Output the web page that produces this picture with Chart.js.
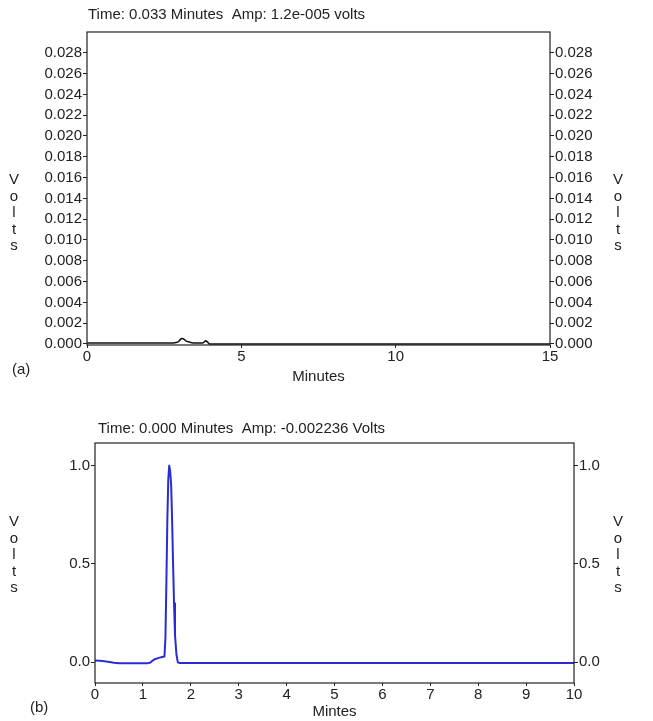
<!DOCTYPE html>
<html lang="en">
<head>
  <meta charset="UTF-8">
  <title>Chromatograms</title>
  <script src="https://cdn.jsdelivr.net/npm/chart.js"></script>
  <style>
    body { margin: 0; background: #fff; width: 653px; height: 721px; overflow: hidden; }
    .panel { position: absolute; left: 0; width: 653px; }
    #boxA { top: 0; height: 395px; }
    #boxB { top: 395px; height: 326px; }
  </style>
</head>
<body>
  <div class="panel" id="boxA"><canvas id="chartA" width="653" height="395"></canvas></div>
  <div class="panel" id="boxB"><canvas id="chartB" width="653" height="326"></canvas></div>

  <script>
    // (a) detector trace, minutes / volts
    const timesA = [0, 0.5, 1, 1.5, 2, 2.5, 2.8, 2.95, 3.05, 3.12, 3.2, 3.3, 3.45, 3.6, 3.75, 3.85, 3.9, 3.97, 4.1, 4.5, 5, 6, 7, 8, 9, 10, 11, 12, 13, 14, 15];
    const voltsA = [0.0001, 0.0001, 0.0001, 0.0001, 0.0001, 0.0001, 0.0001, 0.0002, 0.0005, 0.0005, 0.0003, 0.0002, 0.0001, 0.0001, 0.0001, 0.0003, 0.0002, 0.0, 0.0, 0.0, 0.0, 0.0, 0.0, 0.0, 0.0, 0.0, 0.0, 0.0, 0.0, 0.0, 0.0];
    const ticksA = [0, 0.002, 0.004, 0.006, 0.008, 0.010, 0.012, 0.014, 0.016, 0.018, 0.020, 0.022, 0.024, 0.026, 0.028];
    const minutesA = [0, 5, 10, 15];

    // (b) detector trace
    const timesB = [0, 0.1, 0.2, 0.3, 0.4, 0.5, 0.8, 1.1, 1.15, 1.2, 1.25, 1.3, 1.35, 1.4, 1.45, 1.47, 1.49, 1.51, 1.53, 1.55, 1.57, 1.59, 1.61, 1.63, 1.65, 1.67, 1.7, 1.73, 1.76, 2, 3, 4, 5, 6, 7, 8, 9, 10];
    const voltsB = [0.01, 0.008, 0.005, 0.002, -0.002, -0.004, -0.004, -0.004, -0.002, 0.008, 0.016, 0.02, 0.024, 0.027, 0.03, 0.12, 0.4, 0.72, 0.93, 1.0, 0.97, 0.9, 0.72, 0.5, 0.3, 0.14, 0.04, 0.0, -0.003, -0.003, -0.003, -0.003, -0.003, -0.003, -0.003, -0.003, -0.003, -0.003];
    const ticksB = [0, 0.5, 1.0];
    const minutesB = [0, 1, 2, 3, 4, 5, 6, 7, 8, 9, 10];

    const FONT = "'Liberation Sans', Arial, sans-serif";
    const INK = '#222';

    // header, panel label and the stacked "Volts" letters
    const decor = {
      id: 'decor',
      afterDraw(chart, args, o) {
        const ctx = chart.ctx, a = chart.chartArea;
        ctx.save();
        ctx.strokeStyle = INK;
        ctx.lineWidth = 1.2;
        ctx.strokeRect(a.left, a.top, a.right - a.left, a.bottom - a.top);
        ctx.fillStyle = INK;
        ctx.font = '15px ' + FONT;
        ctx.textBaseline = 'middle';
        ctx.textAlign = 'left';
        ctx.fillText(o.title, a.left + o.titleDx, o.titleY);
        ctx.fillText(o.panel, o.panelX, o.panelY);
        ctx.textAlign = 'center';
        'Volts'.split('').forEach((ch, i) => {
          ctx.fillText(ch, o.leftX, o.lettersY + i * 16.5);
          ctx.fillText(ch, o.rightX, o.lettersY + i * 16.5);
        });
        ctx.restore();
      }
    };

    function axisY(position, ticks, digits, width, min, max) {
      return {
        type: 'linear', position: position, min: min, max: max,
        afterBuildTicks: s => { s.ticks = ticks.map(v => ({ value: v })); },
        afterFit: s => { s.width = width; },
        border: { display: false },
        grid: { drawOnChartArea: false, drawTicks: true, tickLength: 4, color: INK },
        ticks: { color: INK, padding: 1, font: { family: FONT, size: 15 },
                 callback: v => v.toFixed(digits) }
      };
    }

    function axisX(ticks, height, label, titleGap) {
      return {
        type: 'linear', min: ticks[0], max: ticks[ticks.length - 1],
        afterBuildTicks: s => { s.ticks = ticks.map(v => ({ value: v })); },
        afterFit: s => { s.height = height; },
        border: { display: false },
        grid: { drawOnChartArea: false, drawTicks: true, tickLength: 3, color: INK },
        ticks: { color: INK, padding: 0, maxRotation: 0, font: { family: FONT, size: 15 } },
        title: { display: true, text: label, color: INK, padding: { top: 0, bottom: titleGap },
                 font: { family: FONT, size: 15 } }
      };
    }

    new Chart(document.getElementById('chartA'), {
      type: 'line',
      data: {
        datasets: [{
          data: timesA.map((t, i) => ({ x: t, y: voltsA[i] })),
          borderColor: '#111', borderWidth: 1.5, pointRadius: 0, tension: 0.3,
          borderJoinStyle: 'round', yAxisID: 'y'
        }]
      },
      options: {
        responsive: false, animation: false,
        layout: { padding: { top: 32, left: 0, right: 0, bottom: 0 } },
        plugins: {
          legend: { display: false }, tooltip: { enabled: false },
          decor: { title: 'Time: 0.033 Minutes  Amp: 1.2e-005 volts', titleDx: 1, titleY: 15,
                   panel: '(a)', panelX: 12, panelY: 370, leftX: 14, rightX: 618, lettersY: 180 }
        },
        scales: {
          x: axisX(minutesA, 50, 'Minutes', 9),
          y: axisY('left', ticksA, 3, 87, -0.0001, 0.0300),
          y2: axisY('right', ticksA, 3, 103, -0.0001, 0.0300)
        }
      },
      plugins: [decor]
    });

    new Chart(document.getElementById('chartB'), {
      type: 'line',
      data: {
        datasets: [{
          data: timesB.map((t, i) => ({ x: t, y: voltsB[i] })),
          borderColor: '#2b2bd6', borderWidth: 2, pointRadius: 0, tension: 0,
          borderJoinStyle: 'round', yAxisID: 'y'
        }]
      },
      options: {
        responsive: false, animation: false,
        layout: { padding: { top: 48, left: 0, right: 0, bottom: 0 } },
        plugins: {
          legend: { display: false }, tooltip: { enabled: false },
          decor: { title: 'Time: 0.000 Minutes  Amp: -0.002236 Volts', titleDx: 3, titleY: 34,
                   panel: '(b)', panelX: 30, panelY: 313, leftX: 14, rightX: 618, lettersY: 127 }
        },
        scales: {
          x: axisX(minutesB, 38, 'Mintes', 0),
          y: axisY('left', ticksB, 1, 95, -0.105, 1.115),
          y2: axisY('right', ticksB, 1, 79, -0.105, 1.115)
        }
      },
      plugins: [decor]
    });
  </script>
</body>
</html>
